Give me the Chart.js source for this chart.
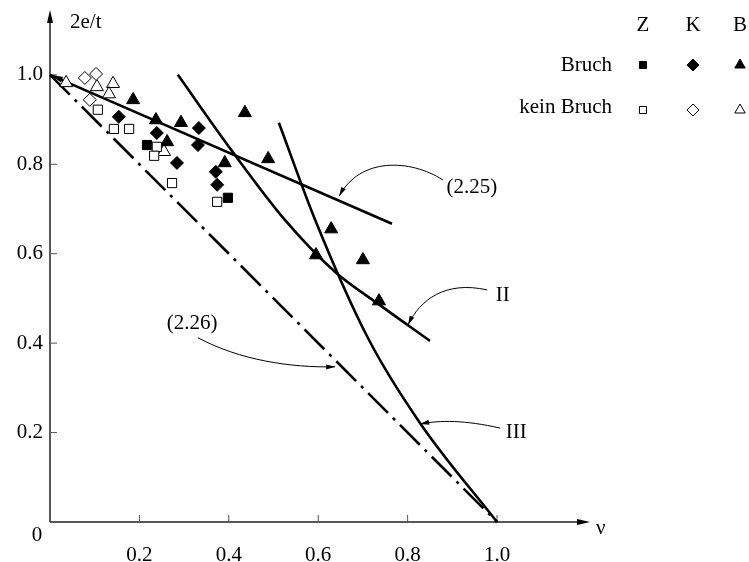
<!DOCTYPE html>
<html>
<head>
<meta charset="utf-8">
<script src="https://cdn.jsdelivr.net/npm/chart.js@4"></script>
<style>
html, body { margin: 0; padding: 0; background: #fff; }
#wrap { width: 749px; height: 562px; position: relative; }
</style>
</head>
<body>
<div id="wrap"><canvas id="chart"></canvas></div>
<script>
// axis ticks
var xTicks = [0.2, 0.4, 0.6, 0.8, 1.0];
var yTicks = [0.2, 0.4, 0.6, 0.8, 1.0];

// Z = squares
var zBruchX = [0.217, 0.398];
var zBruchY = [0.843, 0.725];
var zKeinX = [0.107, 0.143, 0.177, 0.239, 0.233, 0.273, 0.374];
var zKeinY = [0.922, 0.879, 0.879, 0.839, 0.819, 0.758, 0.716];

// K = diamonds
var kBruchX = [0.154, 0.239, 0.333, 0.331, 0.284, 0.371, 0.374];
var kBruchY = [0.906, 0.870, 0.881, 0.843, 0.803, 0.783, 0.754];
var kKeinX = [0.078, 0.103, 0.089];
var kKeinY = [0.993, 1.002, 0.944];

// B = triangles
var bBruchX = [0.186, 0.237, 0.293, 0.262, 0.391, 0.488, 0.436, 0.629, 0.595, 0.700, 0.736];
var bBruchY = [0.944, 0.899, 0.893, 0.850, 0.803, 0.812, 0.915, 0.655, 0.597, 0.586, 0.494];
var bKeinX = [0.036, 0.105, 0.141, 0.132, 0.255];
var bKeinY = [0.982, 0.973, 0.980, 0.957, 0.828];

// curves
var line225X = [0, 0.765];
var line225Y = [1.0, 0.667];
var line226X = [0, 1.0];
var line226Y = [1.0, 0];
var curve2X = [0.286, 0.407, 0.526, 0.638, 0.738, 0.850];
var curve2Y = [1.0, 0.830, 0.675, 0.559, 0.485, 0.405];
var curve3X = [0.512, 0.593, 0.711, 0.828, 1.0];
var curve3Y = [0.893, 0.676, 0.412, 0.221, 0];

function pts(xs, ys) {
	return xs.map(function (x, i) { return { x: x, y: ys[i] }; });
}

var FONT = "21px 'Liberation Serif', 'Times New Roman', serif";

function marks(data, style, filled, r) {
	return {
		data: data,
		showLine: false,
		pointStyle: style,
		pointRadius: r,
		pointBorderWidth: 1,
		pointBorderColor: "#000",
		pointBackgroundColor: filled ? "#000" : "#fff",
		clip: false,
		order: 0,
	};
}

function curve(data, dash) {
	return {
		data: data,
		showLine: true,
		borderColor: "#000",
		borderWidth: 2.6,
		borderDash: dash || [],
		pointRadius: 0,
		cubicInterpolationMode: "monotone",
		fill: false,
		clip: false,
		order: 1,
	};
}

function arrowHead(ctx, x, y, ang, len, wid) {
	ctx.save();
	ctx.translate(x, y);
	ctx.rotate(ang);
	ctx.beginPath();
	ctx.moveTo(0, 0);
	ctx.lineTo(-len, -wid / 2);
	ctx.lineTo(-len, wid / 2);
	ctx.closePath();
	ctx.fill();
	ctx.restore();
}

// labels with curved arrows, positions in data units
var notes = [
	{ text: "(2.25)", at: [0.944, 0.747], path: [[0.879, 0.765], [0.805, 0.812], [0.694, 0.816], [0.647, 0.729]] },
	{ text: "II", at: [1.013, 0.506], path: [[0.978, 0.519], [0.884, 0.540], [0.828, 0.497], [0.801, 0.441]] },
	{ text: "III", at: [1.043, 0.201], path: [[1.007, 0.210], [0.928, 0.228], [0.872, 0.228], [0.828, 0.219]] },
	{ text: "(2.26)", at: [0.318, 0.445], path: [[0.331, 0.412], [0.425, 0.362], [0.537, 0.345], [0.638, 0.347]] },
];

var frame = {
	id: "frame",
	beforeDatasetsDraw: function (chart) {
		var ctx = chart.ctx;
		var xs = chart.scales.x, ys = chart.scales.y;
		var x0 = xs.getPixelForValue(0), y0 = ys.getPixelForValue(0);
		var xEnd = xs.right, yTop = ys.top;
		ctx.save();
		ctx.strokeStyle = "#222";
		ctx.fillStyle = "#000";
		ctx.lineWidth = 1.5;
		ctx.beginPath();
		ctx.moveTo(x0, y0);
		ctx.lineTo(xEnd - 8, y0);
		ctx.moveTo(x0, y0);
		ctx.lineTo(x0, yTop + 8);
		ctx.stroke();
		arrowHead(ctx, xEnd, y0, 0, 13, 6);
		arrowHead(ctx, x0, yTop, -Math.PI / 2, 13, 6);

		ctx.lineWidth = 1;
		ctx.strokeStyle = "#555";
		ctx.font = FONT;
		ctx.fillStyle = "#000";
		xTicks.forEach(function (v) {
			var px = xs.getPixelForValue(v);
			ctx.beginPath();
			ctx.moveTo(px, y0);
			ctx.lineTo(px, y0 - 7);
			ctx.stroke();
			ctx.textAlign = "center";
			ctx.textBaseline = "middle";
			ctx.fillText(v.toFixed(1), px, y0 + 33);
		});
		yTicks.forEach(function (v) {
			var py = ys.getPixelForValue(v);
			ctx.beginPath();
			ctx.moveTo(x0, py);
			ctx.lineTo(x0 + 7, py);
			ctx.stroke();
			ctx.textAlign = "right";
			ctx.textBaseline = "middle";
			ctx.fillText(v.toFixed(1), x0 - 7, py);
		});
		ctx.textAlign = "center";
		ctx.fillText("0", x0 - 13, y0 + 13);
		ctx.textAlign = "left";
		ctx.fillText("2e/t", x0 + 20, yTop + 12);
		ctx.fillText("\u03bd", xEnd + 6, y0 + 6);
		ctx.restore();
	},
	afterDraw: function (chart) {
		var ctx = chart.ctx;
		var xs = chart.scales.x, ys = chart.scales.y;
		function P(p) { return [xs.getPixelForValue(p[0]), ys.getPixelForValue(p[1])]; }
		ctx.save();
		ctx.font = FONT;
		ctx.fillStyle = "#000";
		ctx.strokeStyle = "#000";
		ctx.lineWidth = 1;

		// small arrow tip where (2.25) meets the axis
		var s = P([line225X[0], line225Y[0]]), e = P([line225X[1], line225Y[1]]);
		arrowHead(ctx, s[0] + 1, s[1], Math.atan2(s[1] - e[1], s[0] - e[0]), 12, 6);

		notes.forEach(function (n) {
			var t = P(n.at);
			ctx.textAlign = "center";
			ctx.textBaseline = "middle";
			ctx.fillText(n.text, t[0], t[1]);
			var a = P(n.path[0]), b = P(n.path[1]), c = P(n.path[2]), d = P(n.path[3]);
			ctx.beginPath();
			ctx.moveTo(a[0], a[1]);
			ctx.bezierCurveTo(b[0], b[1], c[0], c[1], d[0], d[1]);
			ctx.stroke();
			arrowHead(ctx, d[0], d[1], Math.atan2(d[1] - c[1], d[0] - c[0]), 9, 5);
		});

		// legend
		var cols = [643, 693, 740];
		var heads = ["Z", "K", "B"];
		var styles = ["rect", "rectRot", "triangle"];
		var sizes = [5, 6, 6];
		ctx.textAlign = "center";
		ctx.textBaseline = "middle";
		heads.forEach(function (h, i) { ctx.fillText(h, cols[i], 25); });
		ctx.textAlign = "right";
		ctx.fillText("Bruch", 612, 65);
		ctx.fillText("kein Bruch", 612, 107);
		styles.forEach(function (st, i) {
			ctx.lineWidth = 1;
			ctx.strokeStyle = "#000";
			ctx.fillStyle = "#000";
			Chart.helpers.drawPoint(ctx, { pointStyle: st, radius: sizes[i], rotation: 0, borderWidth: 1 }, cols[i], 65);
			ctx.fillStyle = "#fff";
			Chart.helpers.drawPoint(ctx, { pointStyle: st, radius: sizes[i], rotation: 0, borderWidth: 1 }, cols[i], 110);
		});
		ctx.restore();
	},
};

new Chart(document.getElementById("chart"), {
	type: "scatter",
	data: {
		datasets: [
			marks(pts(zBruchX, zBruchY), "rect", true, 6.5),
			marks(pts(zKeinX, zKeinY), "rect", false, 6.5),
			marks(pts(kBruchX, kBruchY), "rectRot", true, 6.5),
			marks(pts(kKeinX, kKeinY), "rectRot", false, 6.5),
			marks(pts(bBruchX, bBruchY), "triangle", true, 7.5),
			marks(pts(bKeinX, bKeinY), "triangle", false, 7.5),
			curve(pts(line225X, line225Y)),
			curve(pts(line226X, line226Y), [28, 7, 3, 7]),
			curve(pts(curve2X, curve2Y)),
			curve(pts(curve3X, curve3Y)),
		],
	},
	options: {
		responsive: true,
		maintainAspectRatio: false,
		animation: false,
		layout: {
			padding: { left: 50, right: 159, top: 10, bottom: 40 },
		},
		plugins: {
			legend: { display: false },
			tooltip: { enabled: false },
		},
		scales: {
			x: { type: "linear", min: 0, max: 1.208, display: false },
			y: { type: "linear", min: 0, max: 1.145, display: false },
		},
	},
	plugins: [frame],
});
</script>
</body>
</html>
